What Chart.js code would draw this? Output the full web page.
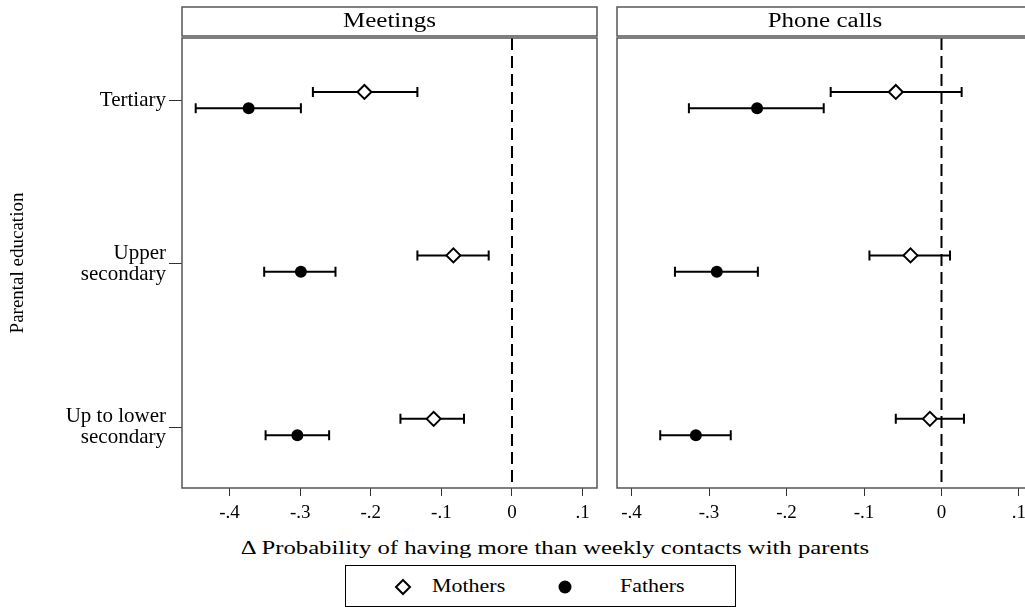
<!DOCTYPE html>
<html>
<head>
<meta charset="utf-8">
<script src="https://cdn.jsdelivr.net/npm/chart.js@4.4.1/dist/chart.umd.min.js"></script>
<style>
  html, body { margin: 0; padding: 0; background: #fff; }
  body { width: 1025px; height: 607px; position: relative; overflow: hidden; font-family: "Liberation Serif", "Times New Roman", serif; }
  #meetings { position: absolute; left: 0; top: 0; width: 600px; height: 530px; }
  #phone { position: absolute; left: 600px; top: 0; width: 440px; height: 530px; }
  .xtitle { position: absolute; left: 555px; top: 537px; transform: translateX(-50%) scaleX(1.3); font-size: 19px; line-height: 22px; white-space: nowrap; color: #000; }
  .legend { position: absolute; left: 345px; top: 565px; width: 391px; height: 42px; border: 1px solid #000; box-sizing: border-box; font-size: 18px; color: #000; }
  .legend span { position: absolute; top: 10px; line-height: 21px; transform: scaleX(1.22); transform-origin: left center; }
  .legend svg { position: absolute; top: 12px; }
</style>
</head>
<body>
<canvas id="meetings" width="600" height="530"></canvas>
<canvas id="phone" width="440" height="530"></canvas>
<div class="xtitle">Δ Probability of having more than weekly contacts with parents</div>
<div class="legend">
  <svg style="left:48px" width="18" height="18"><polygon points="9,2 16,9 9,16 2,9" fill="#fff" stroke="#000" stroke-width="2"/></svg>
  <span style="left:86px">Mothers</span>
  <svg style="left:210px" width="18" height="18"><circle cx="9" cy="9" r="6.5" fill="#000"/></svg>
  <span style="left:274px">Fathers</span>
</div>
<script>
// Categories (top to bottom)
const categories = ['Tertiary', ['Upper', 'secondary'], ['Up to lower', 'secondary']];
const tickValues = [-0.4, -0.3, -0.2, -0.1, 0, 0.1];

// Meetings
const meetMothers = [-0.209, -0.083, -0.111];
const meetMothersLo = [-0.282, -0.134, -0.158];
const meetMothersHi = [-0.134, -0.033, -0.068];
const meetFathers = [-0.373, -0.299, -0.304];
const meetFathersLo = [-0.448, -0.351, -0.349];
const meetFathersHi = [-0.299, -0.250, -0.259];

// Phone calls
const phoneMothers = [-0.059, -0.040, -0.015];
const phoneMothersLo = [-0.143, -0.093, -0.059];
const phoneMothersHi = [0.026, 0.011, 0.029];
const phoneFathers = [-0.238, -0.290, -0.317];
const phoneFathersLo = [-0.326, -0.344, -0.363];
const phoneFathersHi = [-0.152, -0.237, -0.272];

const FONT = '"Liberation Serif", "Times New Roman", serif';
const catY = (i) => categories.length - i;

function fmtTick(v) {
    if (Math.abs(v) < 1e-9) return '0';
    return v.toFixed(1).replace('0.', '.');
}

// Error bars, header box, zero line, frame
const panelPlugin = {
    id: 'panel',
    beforeDatasetsDraw(chart) {
        const ctx = chart.ctx;
        const xs = chart.scales.x, ys = chart.scales.y;
        const area = chart.chartArea;
        ctx.save();
        ctx.strokeStyle = '#000';
        ctx.lineWidth = 2;
        // zero line
        ctx.setLineDash([12, 6]);
        ctx.beginPath();
        ctx.moveTo(xs.getPixelForValue(0), area.top);
        ctx.lineTo(xs.getPixelForValue(0), area.bottom);
        ctx.stroke();
        ctx.setLineDash([]);
        // error bars
        chart.data.datasets.forEach((ds) => {
            ds.data.forEach((p, i) => {
                const y = ys.getPixelForValue(p.y);
                const x1 = xs.getPixelForValue(ds.lo[i]);
                const x2 = xs.getPixelForValue(ds.hi[i]);
                ctx.beginPath();
                ctx.moveTo(x1, y); ctx.lineTo(x2, y);
                ctx.moveTo(x1, y - 5); ctx.lineTo(x1, y + 5);
                ctx.moveTo(x2, y - 5); ctx.lineTo(x2, y + 5);
                ctx.stroke();
            });
        });
        ctx.restore();
    },
    afterDraw(chart, args, opts) {
        const ctx = chart.ctx;
        const area = chart.chartArea;
        ctx.save();
        ctx.strokeStyle = '#555';
        ctx.lineWidth = 1.5;
        ctx.strokeRect(area.left, area.top, area.right - area.left, area.bottom - area.top);
        ctx.strokeRect(area.left, 7, area.right - area.left, 29);
        // header text, a little stretched like the original
        ctx.fillStyle = '#000';
        ctx.font = '20px ' + FONT;
        ctx.textAlign = 'center';
        ctx.textBaseline = 'middle';
        ctx.translate((area.left + area.right) / 2, 22);
        ctx.scale(1.25, 1);
        ctx.fillText(opts.title, 0, 0);
        ctx.restore();
    }
};

function makePanel(canvasId, title, mothers, mLo, mHi, fathers, fLo, fHi, isLeft) {
    return new Chart(document.getElementById(canvasId), {
        type: 'scatter',
        data: {
            datasets: [
                {
                    label: 'Mothers',
                    data: mothers.map((v, i) => ({ x: v, y: catY(i) + 0.05 })),
                    lo: mLo, hi: mHi,
                    pointStyle: 'rectRot',
                    pointRadius: 7,
                    pointBorderWidth: 2,
                    pointBackgroundColor: '#fff',
                    pointBorderColor: '#000'
                },
                {
                    label: 'Fathers',
                    data: fathers.map((v, i) => ({ x: v, y: catY(i) - 0.05 })),
                    lo: fLo, hi: fHi,
                    pointStyle: 'circle',
                    pointRadius: 6,
                    pointBorderWidth: 0,
                    pointBackgroundColor: '#000',
                    pointBorderColor: '#000'
                }
            ]
        },
        options: {
            responsive: false,
            animation: false,
            events: [],
            layout: {
                autoPadding: false,
                padding: { top: 38, right: isLeft ? 3 : 7, left: isLeft ? 0 : 17, bottom: 0 }
            },
            plugins: {
                legend: { display: false },
                tooltip: { enabled: false },
                panel: { title: title }
            },
            scales: {
                x: {
                    type: 'linear',
                    min: isLeft ? -0.4674 : -0.4188,
                    max: isLeft ? 0.1204 : 0.1181,
                    afterBuildTicks: (s) => { s.ticks = tickValues.map(v => ({ value: v })); },
                    afterFit: (s) => { s.height = 42; s.paddingLeft = 0; s.paddingRight = 0; },
                    grid: { drawOnChartArea: false, drawTicks: true, tickLength: 8, color: '#333', lineWidth: 1 },
                    border: { display: false },
                    ticks: {
                        color: '#000',
                        font: { family: FONT, size: 19 },
                        padding: 6,
                        maxRotation: 0,
                        autoSkip: false,
                        callback: (v) => fmtTick(v)
                    }
                },
                y: {
                    type: 'linear',
                    display: isLeft,
                    min: 0.627,
                    max: 3.38,
                    afterBuildTicks: (s) => { s.ticks = categories.map((c, i) => ({ value: catY(i) })); },
                    afterFit: (s) => { s.width = isLeft ? 182 : 0; s.paddingTop = 0; s.paddingBottom = 0; },
                    grid: { drawOnChartArea: false, drawTicks: true, tickLength: 13, color: '#333', lineWidth: 1 },
                    border: { display: false },
                    title: {
                        display: true,
                        text: 'Parental education',
                        color: '#000',
                        font: { family: FONT, size: 19 },
                        padding: { top: 7, bottom: 0 }
                    },
                    ticks: {
                        color: '#000',
                        font: { family: FONT, size: 21, lineHeight: 1.0 },
                        padding: 3,
                        autoSkip: false,
                        callback: (v) => categories[categories.length - v]
                    }
                }
            }
        },
        plugins: [panelPlugin]
    });
}

makePanel('meetings', 'Meetings', meetMothers, meetMothersLo, meetMothersHi,
    meetFathers, meetFathersLo, meetFathersHi, true);
makePanel('phone', 'Phone calls', phoneMothers, phoneMothersLo, phoneMothersHi,
    phoneFathers, phoneFathersLo, phoneFathersHi, false);
</script>
</body>
</html>
